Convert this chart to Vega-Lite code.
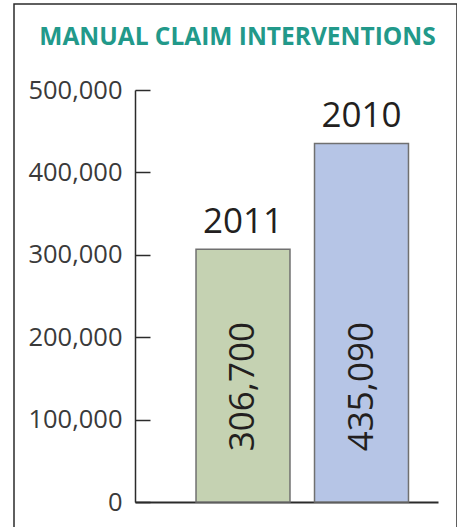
{
  "$schema": "https://vega.github.io/schema/vega-lite/v6.json",
  "autosize": "none",
  "padding": {"left": 14, "top": 4, "right": 0, "bottom": 0},
  "width": 443,
  "height": 530,
  "background": "white",
  "title": {
    "text": "MANUAL CLAIM INTERVENTIONS",
    "font": "Open Sans",
    "fontSize": 24.5,
    "fontWeight": "bold",
    "color": "#22998a",
    "anchor": "middle",
    "dx": 2,
    "offset": -46
  },
  "config": {
    "view": {"stroke": "#2b2b2b", "strokeWidth": 1.5},
    "font": "Open Sans"
  },
  "data": {
    "values": [
      {"year": "2011", "claims": 306700},
      {"year": "2010", "claims": 435090}
    ]
  },
  "encoding": {
    "x": {
      "field": "year",
      "type": "nominal",
      "sort": ["2011", "2010"],
      "scale": {"range": [121, 424], "paddingInner": 0.207, "paddingOuter": 0.382, "align": 0.674},
      "axis": {"orient": "bottom", "offset": -32, "title": null, "labels": false, "ticks": false, "domain": true, "domainColor": "#2b2b2b", "domainWidth": 2}
    },
    "y": {
      "field": "claims",
      "type": "quantitative",
      "scale": {"domain": [0, 500000], "range": [498, 86], "nice": false, "zero": true},
      "axis": {
        "orient": "left",
        "offset": -121,
        "title": null,
        "values": [0, 100000, 200000, 300000, 400000, 500000],
        "format": ",d",
        "grid": false,
        "domain": true,
        "domainColor": "#2b2b2b",
        "domainWidth": 1.5,
        "ticks": true,
        "tickSize": -15,
        "tickColor": "#2b2b2b",
        "tickWidth": 1.5,
        "labelPadding": 28,
        "labelFont": "Open Sans",
        "labelFontSize": 25.5,
        "labelColor": "#3a3a3a",
        "labelFontWeight": "normal"
      }
    }
  },
  "layer": [
    {
      "mark": {"type": "bar", "stroke": "#707070", "strokeWidth": 1.5},
      "encoding": {
        "color": {
          "field": "year",
          "type": "nominal",
          "scale": {"domain": ["2011", "2010"], "range": ["#c5d2b2", "#b6c5e6"]},
          "legend": null
        }
      }
    },
    {
      "mark": {"type": "text", "font": "Open Sans", "fontSize": 35, "color": "#231f20", "align": "center", "baseline": "alphabetic", "dy": -16},
      "encoding": {"text": {"field": "year"}}
    },
    {
      "mark": {"type": "text", "font": "Open Sans", "fontSize": 35, "color": "#231f20", "align": "center", "baseline": "middle", "angle": 270},
      "encoding": {
        "y": {"datum": 140000, "type": "quantitative"},
        "text": {"field": "claims", "type": "quantitative", "format": ",d"}
      }
    }
  ]
}
